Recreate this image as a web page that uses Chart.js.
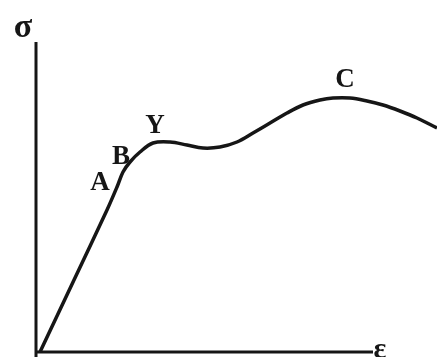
<!DOCTYPE html>
<html>
<head>
<meta charset="utf-8">
<script src="https://cdn.jsdelivr.net/npm/chart.js@4"></script>
<style>
  html, body { margin: 0; padding: 0; background: #fff; }
  #box { width: 437px; height: 357px; }
</style>
</head>
<body>
<div id="box"><canvas id="myChart"></canvas></div>
<script>
// Curva tensão-deformação
const strain = [2, 36, 69, 79, 85, 92, 102, 115, 132, 149, 165, 182, 199, 215, 232, 249, 265, 282, 295, 312, 329, 345, 362, 379, 399];
const stress = [0, 72, 142, 165, 180, 190, 200, 209, 210, 207, 204, 205, 210, 219, 229, 239, 247, 252, 254, 254, 251, 247, 241, 234, 224];

// Pontos marcados na curva
const pointNames = ["A", "B", "Y", "C"];
const pointStrain = [62, 83, 117, 307];
const pointStress = [169, 195, 226, 272];

// Eixos
const axisLabels = ["σ", "ε"];
const axisX = [-2, 335];
const axisY = [-5, 310];

const ink = "#161616";

const curve = strain.map((x, i) => ({ x: x, y: stress[i] }));

const labelPlugin = {
  id: "labels",
  afterDatasetsDraw(chart) {
    const ctx = chart.ctx;
    const sx = chart.scales.x;
    const sy = chart.scales.y;
    ctx.save();
    ctx.fillStyle = ink;
    ctx.textAlign = "center";
    ctx.textBaseline = "middle";
    ctx.font = "bold 27px 'Liberation Serif'";
    pointNames.forEach((n, i) => {
      ctx.fillText(n, sx.getPixelForValue(pointStrain[i]), sy.getPixelForValue(pointStress[i]));
    });
    ctx.font = "bold 34px 'Liberation Serif'";
    ctx.fillText(axisLabels[0], sx.getPixelForValue(-15), sy.getPixelForValue(324));
    ctx.font = "bold 30px 'Liberation Serif'";
    ctx.fillText(axisLabels[1], sx.getPixelForValue(342), sy.getPixelForValue(2));
    ctx.restore();
  }
};

new Chart(document.getElementById("myChart"), {
  type: "scatter",
  data: {
    datasets: [
      {
        data: curve,
        showLine: true,
        borderColor: ink,
        borderWidth: 3.5,
        pointRadius: 0,
        tension: 0.35,
      },
      {
        data: [{ x: axisX[0], y: axisY[1] }, { x: axisX[0], y: axisY[0] }],
        showLine: true,
        borderColor: ink,
        borderWidth: 3,
        pointRadius: 0,
      },
      {
        data: [{ x: axisX[0], y: 0 }, { x: axisX[1], y: 0 }],
        showLine: true,
        borderColor: ink,
        borderWidth: 3,
        pointRadius: 0,
      },
    ],
  },
  options: {
    responsive: true,
    maintainAspectRatio: false,
    animation: false,
    layout: { padding: 0 },
    plugins: { legend: { display: false }, tooltip: { enabled: false } },
    scales: {
      x: { type: "linear", min: -38, max: 399, display: false },
      y: { type: "linear", min: -5, max: 352, display: false },
    },
  },
  plugins: [labelPlugin],
});
</script>
</body>
</html>
